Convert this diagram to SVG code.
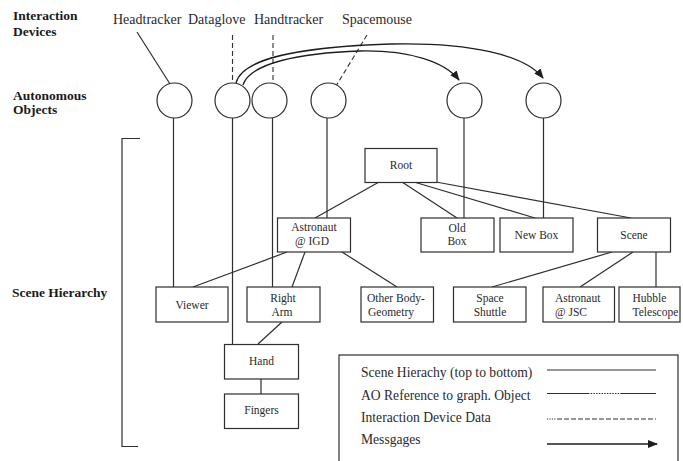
<svg xmlns="http://www.w3.org/2000/svg" width="683" height="461" viewBox="0 0 683 461">
<style>
.bg{fill:#ffffff}
.ln{stroke:#2e2e2e;stroke-width:1.2;fill:none}
.box{stroke:#2e2e2e;stroke-width:1.2;fill:#ffffff}
.circ{stroke:#2e2e2e;stroke-width:1.2;fill:#ffffff}
.dash{stroke:#2e2e2e;stroke-width:1.1;fill:none;stroke-dasharray:5,3}
.msg{stroke:#1e1e1e;stroke-width:1.3;fill:none;marker-end:url(#ah)}
.hd{font-family:"Liberation Serif","Times New Roman",serif;font-weight:bold;font-size:13.5px;fill:#1a1a1a}
.dev{font-family:"Liberation Serif","Times New Roman",serif;font-size:14px;fill:#2a2a2a}
.bt{font-family:"Liberation Serif","Times New Roman",serif;font-size:11.5px;fill:#2a2a2a;text-anchor:middle}
.btl{font-family:"Liberation Serif","Times New Roman",serif;font-size:11.5px;fill:#2a2a2a}
.lg{font-family:"Liberation Serif","Times New Roman",serif;font-size:13.6px;fill:#2a2a2a}
</style>
<defs>
<marker id="ah" markerWidth="10" markerHeight="8" refX="9" refY="4" orient="auto" markerUnits="userSpaceOnUse">
<path d="M0,0 L10,4 L0,8 Z" fill="#1e1e1e"/>
</marker>
</defs>
<rect class="bg" x="0" y="0" width="683" height="461"/>

<g id="section-labels">
<text class="hd" x="13" y="20">Interaction</text>
<text class="hd" x="13" y="36">Devices</text>
<text class="hd" x="13" y="100">Autonomous</text>
<text class="hd" x="13" y="114">Objects</text>
<text class="hd" x="12" y="297">Scene Hierarchy</text>
<path class="ln" d="M140,138.5 H122 V446.5 H138"/>
</g>

<g id="devices">
<text class="dev" x="113" y="24">Headtracker</text>
<text class="dev" x="188" y="24">Dataglove</text>
<text class="dev" x="254" y="24">Handtracker</text>
<text class="dev" x="342" y="24">Spacemouse</text>
</g>

<g id="connectors">
<!-- interaction device data -->
<line class="ln" x1="137" y1="32" x2="170" y2="84"/>
<line class="dash" x1="232.5" y1="35" x2="232.5" y2="83"/>
<line class="dash" x1="273" y1="35" x2="273" y2="83"/>
<line class="dash" x1="367" y1="35" x2="336" y2="86"/>
<!-- messages -->
<path class="msg" d="M236,83 C242,58 300,47 390,44 C470,42 525,55 543,78"/>
<path class="msg" d="M243,85 C250,63 300,53 360,51 C410,50 445,62 459,80"/>
<!-- AO references -->
<line class="ln" x1="173.5" y1="118" x2="173.5" y2="287"/>
<line class="ln" x1="232.5" y1="118" x2="232.5" y2="344"/>
<line class="ln" x1="272.5" y1="118" x2="272.5" y2="287"/>
<line class="ln" x1="327" y1="118" x2="327" y2="218"/>
<line class="ln" x1="464" y1="118" x2="464" y2="218"/>
<line class="ln" x1="543.5" y1="118" x2="543.5" y2="218"/>
<!-- scene hierarchy -->
<line class="ln" x1="379" y1="182" x2="315" y2="218"/>
<line class="ln" x1="402" y1="182" x2="457" y2="218"/>
<line class="ln" x1="414" y1="182" x2="535" y2="218"/>
<line class="ln" x1="436" y1="182" x2="631" y2="218"/>
<line class="ln" x1="287" y1="252" x2="193" y2="287"/>
<line class="ln" x1="305" y1="252" x2="292" y2="287"/>
<line class="ln" x1="342" y1="252" x2="397" y2="287"/>
<line class="ln" x1="612" y1="252" x2="492" y2="287"/>
<line class="ln" x1="633" y1="252" x2="580" y2="287"/>
<line class="ln" x1="656" y1="252" x2="656" y2="287"/>
<line class="ln" x1="282" y1="322" x2="258" y2="344"/>
<line class="ln" x1="261" y1="379" x2="261" y2="394"/>
</g>

<g id="ao-1"><circle class="circ" cx="174.5" cy="100.5" r="17.5"/></g>
<g id="ao-2"><circle class="circ" cx="232.5" cy="100.5" r="17.5"/></g>
<g id="ao-3"><circle class="circ" cx="269.5" cy="100.5" r="17.5"/></g>
<g id="ao-4"><circle class="circ" cx="328.5" cy="100.5" r="17.5"/></g>
<g id="ao-5"><circle class="circ" cx="464.5" cy="100.5" r="17.5"/></g>
<g id="ao-6"><circle class="circ" cx="543.5" cy="100.5" r="17.5"/></g>

<g id="root"><rect class="box" x="365" y="148.5" width="72" height="34"/><text class="bt" x="401" y="169">Root</text></g>
<g id="astronaut-igd"><rect class="box" x="277.5" y="218" width="73" height="34"/><text class="bt" x="314" y="231">Astronaut</text><text class="bt" x="312" y="245">@ IGD</text></g>
<g id="old-box"><rect class="box" x="421" y="218" width="73" height="34"/><text class="bt" x="457" y="231.5">Old</text><text class="bt" x="457" y="245">Box</text></g>
<g id="new-box"><rect class="box" x="500" y="218" width="73" height="34"/><text class="bt" x="536.5" y="239">New Box</text></g>
<g id="scene"><rect class="box" x="597.5" y="218" width="73" height="34"/><text class="bt" x="634" y="239">Scene</text></g>
<g id="viewer"><rect class="box" x="156" y="287" width="72" height="35"/><text class="bt" x="192" y="308.5">Viewer</text></g>
<g id="right-arm"><rect class="box" x="247" y="287" width="73" height="35"/><text class="bt" x="283" y="302">Right</text><text class="bt" x="282" y="315.5">Arm</text></g>
<g id="other-body"><rect class="box" x="361" y="287" width="72.5" height="35"/><text class="btl" x="367" y="302">Other Body-</text><text class="btl" x="368" y="315.5">Geometry</text></g>
<g id="space-shuttle"><rect class="box" x="453.5" y="287" width="72.5" height="35"/><text class="bt" x="490" y="302">Space</text><text class="bt" x="490" y="315.5">Shuttle</text></g>
<g id="astronaut-jsc"><rect class="box" x="543" y="287" width="71.5" height="35"/><text class="btl" x="555" y="302">Astronaut</text><text class="btl" x="555" y="315.5">@ JSC</text></g>
<g id="hubble"><rect class="box" x="619" y="287" width="61" height="35"/><text class="bt" x="649.5" y="302">Hubble</text><text class="btl" x="632.5" y="315.5">Telescope</text></g>
<g id="hand"><rect class="box" x="224.5" y="344.5" width="74" height="34.5"/><text class="bt" x="261.5" y="365">Hand</text></g>
<g id="fingers"><rect class="box" x="224.5" y="394" width="74" height="34.5"/><text class="bt" x="261.5" y="413.5">Fingers</text></g>

<g id="legend">
<rect class="box" x="339" y="355" width="339" height="130"/>
<text class="lg" x="361" y="376.5">Scene Hierachy (top to bottom)</text>
<text class="lg" x="361" y="400">AO Reference to graph. Object</text>
<text class="lg" x="361" y="422">Interaction Device Data</text>
<text class="lg" x="361" y="444">Messgages</text>
<line class="ln" x1="547" y1="370" x2="656" y2="370"/>
<line class="ln" x1="547" y1="393.5" x2="588" y2="393.5"/>
<line class="ln" x1="588" y1="393.5" x2="621" y2="393.5" style="stroke-dasharray:1.5,1.2;stroke-width:1"/>
<line class="ln" x1="621" y1="393.5" x2="656" y2="393.5"/>
<line class="ln" x1="547" y1="419" x2="556" y2="419" style="stroke-dasharray:1.2,1.2;stroke-width:1"/>
<line class="ln" x1="557" y1="419" x2="656" y2="419" style="stroke-dasharray:5,2;stroke-width:1"/>
<line class="msg" x1="547" y1="444" x2="657" y2="444"/>
</g>
</svg>
